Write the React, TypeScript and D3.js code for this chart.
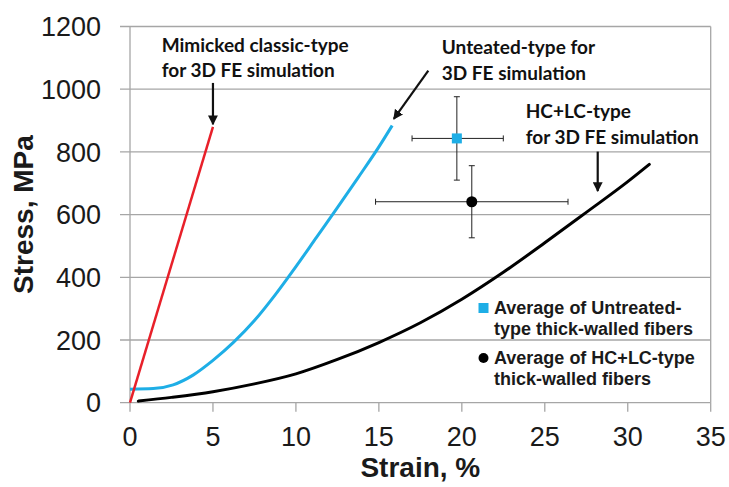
import React from 'react';
import * as d3 from 'd3';

// strain (%) / stress (MPa)
const redStrain = [0, 5];
const redStress = [0, 880];

const blueStrain = [0, 1.4, 2.6, 3.8, 5, 6.25, 7.5, 8.75, 10, 11.25, 12.5, 13.75, 15, 15.8];
const blueStress = [43, 45, 57, 88, 135, 193, 262, 344, 434, 528, 622, 718, 816, 884];

const blackStrain = [0.5, 2.5, 5, 7.5, 10, 12.5, 15, 17.5, 20, 22.5, 25, 27.5, 30, 31.3];
const blackStress = [5, 17, 35, 60, 92, 138, 192, 255, 330, 416, 510, 607, 705, 760];

// averages with error bars: [x, y, xLo, xHi, yLo, yHi]
const avgUntreated = [19.7, 843, 17.0, 22.5, 710, 976];
const avgHCLC = [20.6, 641, 14.8, 26.4, 526, 756];

const xTicks = [0, 5, 10, 15, 20, 25, 30, 35];
const yTicks = [0, 200, 400, 600, 800, 1000, 1200];

const noteLines = [
  ['Mimicked classic-type', 'for 3D FE simulation'],
  ['Unteated-type for', '3D FE simulation'],
  ['HC+LC-type', 'for 3D FE simulation'],
];
const noteAnchor = [[1.91, 1120], [18.79, 1112], [23.85, 907]];
// arrows: [x1, y1, x2, y2]
const arrows = [[5, 1020, 5, 888], [17.98, 1059, 15.9, 905], [28.19, 801, 28.19, 675]];

const legendLabels = [
  ['Average of Untreated-', 'type thick-walled fibers'],
  ['Average of HC+LC-type', 'thick-walled fibers'],
];

const W = 729, H = 487;
const margin = { top: 26.5, right: 18.3, bottom: 84.3, left: 130 };

export default function App() {
  const x = d3.scaleLinear().domain([0, 35]).range([margin.left, W - margin.right]);
  const y = d3.scaleLinear().domain([0, 1200]).range([H - margin.bottom, margin.top]);
  const line = d3.line<number[]>().x(d => x(d[0])).y(d => y(d[1])).curve(d3.curveMonotoneX);

  const red = redStrain.map((v, i) => [v, redStress[i]]);
  const blue = blueStrain.map((v, i) => [v, blueStress[i]]);
  const black = blackStrain.map((v, i) => [v, blackStress[i]]);

  const grid = '#a6a6a6';
  const x0 = x(0), x1 = x(35), y0 = y(0), y1 = y(1200);

  const errBar = (d: number[], key: string) => (
    <g key={key} stroke="#222" strokeWidth={1}>
      <line x1={x(d[2])} x2={x(d[3])} y1={y(d[1])} y2={y(d[1])} />
      <line x1={x(d[2])} x2={x(d[2])} y1={y(d[1]) - 3} y2={y(d[1]) + 3} />
      <line x1={x(d[3])} x2={x(d[3])} y1={y(d[1]) - 3} y2={y(d[1]) + 3} />
      <line x1={x(d[0])} x2={x(d[0])} y1={y(d[4])} y2={y(d[5])} />
      <line x1={x(d[0]) - 3} x2={x(d[0]) + 3} y1={y(d[4])} y2={y(d[4])} />
      <line x1={x(d[0]) - 3} x2={x(d[0]) + 3} y1={y(d[5])} y2={y(d[5])} />
    </g>
  );

  return (
    <svg width={W} height={H} style={{ position: 'absolute', left: 0, top: 0, background: '#fff' }}>
      <defs>
        <marker id="ah" viewBox="0 0 10 10" refX="9" refY="5" markerWidth="4.5" markerHeight="4.5" orient="auto">
          <path d="M0,0 L10,5 L0,10 z" fill="#111" />
        </marker>
      </defs>

      {/* grid + frame */}
      {yTicks.map(t => (
        <line key={'g' + t} x1={x0 - 10} x2={x1} y1={y(t)} y2={y(t)} stroke={grid} strokeWidth={1.3} />
      ))}
      <line x1={x0} x2={x0} y1={y1} y2={y0} stroke={grid} strokeWidth={1.3} />
      <line x1={x1} x2={x1} y1={y1} y2={y0} stroke={grid} strokeWidth={1.3} />
      {xTicks.map(t => (
        <line key={'t' + t} x1={x(t)} x2={x(t)} y1={y0} y2={y0 + 9} stroke={grid} strokeWidth={1.3} />
      ))}

      {/* tick labels */}
      <g fontFamily="Liberation Sans, Arial, sans-serif" fontSize={27} fill="#1a1a1a">
        {yTicks.map(t => (
          <text key={'yl' + t} x={x0 - 29} y={y(t)} dy="0.36em" textAnchor="end">{t}</text>
        ))}
        {xTicks.map(t => (
          <text key={'xl' + t} x={x(t)} y={y0 + 34} dy="0.36em" textAnchor="middle">{t}</text>
        ))}
      </g>

      {/* axis titles */}
      <g fontFamily="Liberation Sans, Arial, sans-serif" fontSize={28} fontWeight="bold" fill="#1a1a1a">
        <text x={(x0 + x1) / 2} y={477} textAnchor="middle">Strain, %</text>
        <text transform={`translate(33,${(y0 + y1) / 2}) rotate(-90)`} textAnchor="middle">Stress, MPa</text>
      </g>

      {/* curves */}
      <path d={line(black) || ''} fill="none" stroke="#000" strokeWidth={3} strokeLinecap="round" />
      <path d={line(blue) || ''} fill="none" stroke="#1eaee6" strokeWidth={3} />
      <path d={line(red) || ''} fill="none" stroke="#e8202a" strokeWidth={2.5} />

      {/* averages */}
      {errBar(avgUntreated, 'eu')}
      {errBar(avgHCLC, 'eh')}
      <rect x={x(avgUntreated[0]) - 5} y={y(avgUntreated[1]) - 5} width={10} height={10} fill="#1eaee6" />
      <circle cx={x(avgHCLC[0])} cy={y(avgHCLC[1])} r={5.5} fill="#000" />

      {/* annotations */}
      <g fontFamily="Lato, sans-serif" fontSize={19} fontWeight="bold" fill="#111">
        {noteLines.map((ls, i) => (
          <text key={'n' + i} x={x(noteAnchor[i][0])} y={y(noteAnchor[i][1])}>
            {ls.map((l, j) => (
              <tspan key={j} x={x(noteAnchor[i][0])} dy={j === 0 ? 0 : 25.5}>{l}</tspan>
            ))}
          </text>
        ))}
      </g>
      {arrows.map((a, i) => (
        <line key={'a' + i} x1={x(a[0])} y1={y(a[1])} x2={x(a[2])} y2={y(a[3])}
          stroke="#111" strokeWidth={2.2} markerEnd="url(#ah)" />
      ))}

      {/* legend */}
      <rect x={478.5} y={303} width={10} height={10} fill="#1eaee6" />
      <circle cx={483.5} cy={358} r={5} fill="#000" />
      <g fontFamily="Liberation Sans, Arial, sans-serif" fontSize={18} fontWeight="bold" fill="#1a1a1a">
        {legendLabels.map((ls, i) => (
          <text key={'l' + i} x={494} y={i === 0 ? 314 : 364}>
            {ls.map((l, j) => (
              <tspan key={j} x={494} dy={j === 0 ? 0 : 21}>{l}</tspan>
            ))}
          </text>
        ))}
      </g>
    </svg>
  );
}
